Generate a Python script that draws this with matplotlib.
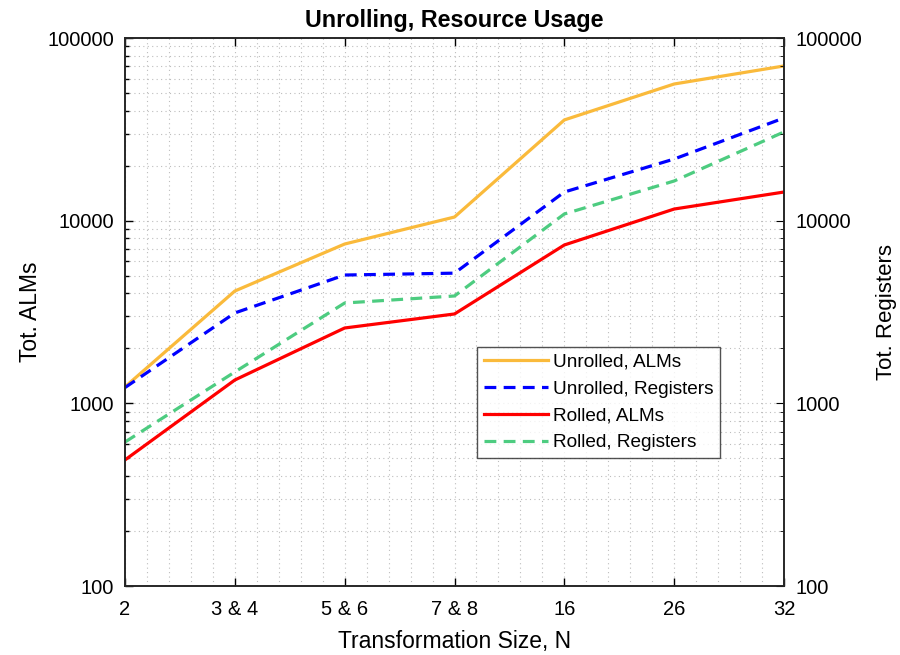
import matplotlib
matplotlib.use("Agg")
import matplotlib.pyplot as plt
from matplotlib.ticker import NullFormatter, MultipleLocator, LogLocator
import numpy as np

plt.rcParams['font.family'] = ['Liberation Sans', 'DejaVu Sans']

categories = ['2', '3 & 4', '5 & 6', '7 & 8', '16', '26', '32']
unrolled_alms = [1230, 4120, 7450, 10470, 35600, 56000, 70300]
unrolled_regs = [1220, 3125, 5040, 5160, 14350, 21750, 36500]
rolled_alms = [490, 1342, 2585, 3085, 7360, 11580, 14350]
rolled_regs = [614, 1485, 3542, 3870, 10880, 16490, 30600]
ytick_vals = [100, 1000, 10000, 100000]
ytick_labels = ['100', '1000', '10000', '100000']

fig = plt.figure(figsize=(9, 6.55), dpi=100)
ax = fig.add_axes([125/900, 1-586/655, (784-125)/900, (586-38)/655])
x = np.arange(len(categories))

dash = (0, (3.7, 2.3))
ax.plot(x, unrolled_alms, color=(0.98, 0.73, 0.23), lw=2.3, label='Unrolled, ALMs')
ax.plot(x, unrolled_regs, color=(0, 0, 1), lw=2.3, ls=dash, label='Unrolled, Registers')
ax.plot(x, rolled_alms, color=(1, 0, 0), lw=2.3, label='Rolled, ALMs')
ax.plot(x, rolled_regs, color=(0.3, 0.8, 0.5), lw=2.3, ls=dash, label='Rolled, Registers')

ax.set_yscale('log')
ax.set_ylim(100, 100000)
ax.set_xlim(0, len(categories)-1)
ax.set_xticks(x)
ax.set_xticklabels(categories)
ax.xaxis.set_minor_locator(MultipleLocator(0.2))
ax.set_yticks(ytick_vals)
ax.set_yticklabels(ytick_labels)
ax.yaxis.set_minor_locator(LogLocator(base=10, subs=np.arange(2, 10)))
ax.yaxis.set_minor_formatter(NullFormatter())

gstyle = dict(ls=(0, (1, 3)), color='#bdbdbd', lw=0.8)
ax.grid(True, which='major', **gstyle)
ax.grid(True, which='minor', **gstyle)
ax.tick_params(which='both', direction='in', top=True, right=False, labelsize=14.5,
               length=6, width=1, pad=8)
ax.tick_params(axis='x', which='major', pad=10)
ax.tick_params(which='minor', length=3)
ax.tick_params(axis='x', which='minor', length=0)
for s in ax.spines.values():
    s.set_linewidth(1.2)
    s.set_color('#262626')

ax.set_title('Unrolling, Resource Usage', fontsize=16.8, fontweight='bold', pad=8)
ax.set_xlabel('Transformation Size, N', fontsize=16.5, labelpad=8)
ax.set_ylabel('Tot. ALMs', fontsize=16.5, labelpad=4)

ax2 = ax.twinx()
ax2.set_yscale('log')
ax2.set_ylim(100, 100000)
ax2.set_yticks(ytick_vals)
ax2.set_yticklabels(ytick_labels)
ax2.yaxis.set_minor_locator(LogLocator(base=10, subs=np.arange(2, 10)))
ax2.yaxis.set_minor_formatter(NullFormatter())
ax2.tick_params(which='both', direction='in', labelsize=14.5, length=6, pad=8)
ax2.tick_params(which='minor', length=3)
ax2.set_ylabel('Tot. Registers', fontsize=16, labelpad=10)
for s in ax2.spines.values():
    s.set_linewidth(1.2)
    s.set_color('#262626')

leg = ax.legend(loc='upper left', bbox_to_anchor=((477-125)/659, 1-(347-38)/548),
                borderaxespad=0,
                fontsize=13.7, frameon=True, fancybox=False, edgecolor='#262626',
                handlelength=3.37, borderpad=0.35, labelspacing=0.5, handletextpad=0.26)
leg.get_frame().set_linewidth(1.0)
leg.set_zorder(10)

fig.savefig('out.png', dpi=100)
